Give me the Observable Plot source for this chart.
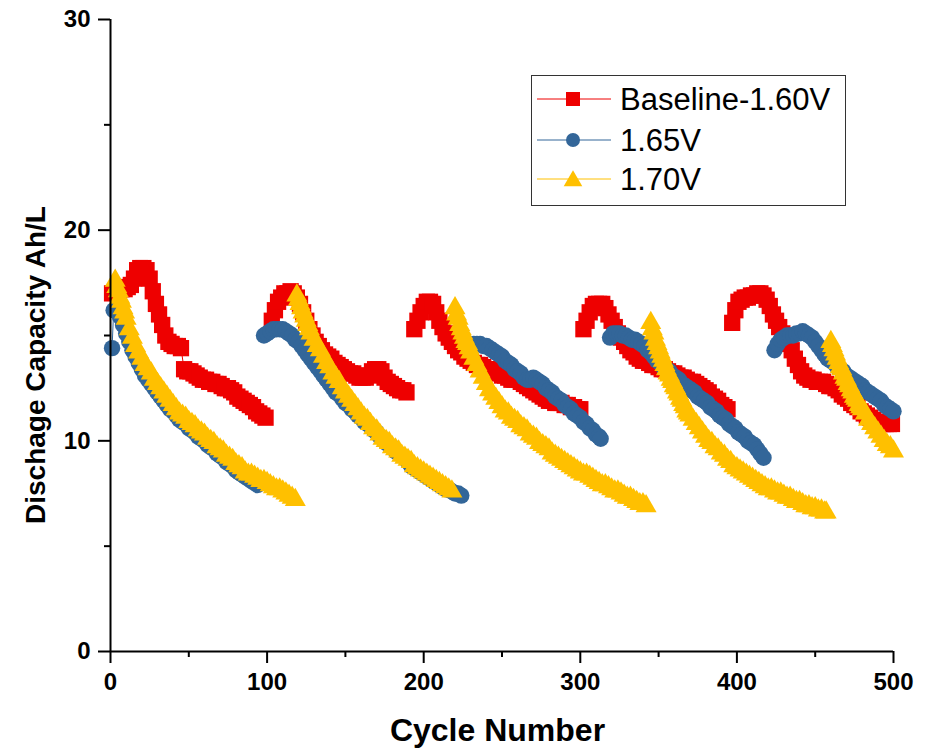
<!DOCTYPE html>
<html>
<head>
<meta charset="utf-8">
<script src="https://cdn.jsdelivr.net/npm/d3@7"></script>
<script src="https://cdn.jsdelivr.net/npm/@observablehq/plot@0.6"></script>
<style>
  html, body { margin: 0; padding: 0; background: #fff; }
  #wrap { position: relative; width: 926px; height: 751px; overflow: hidden; font-family: "Liberation Sans", Arial, sans-serif; }
  #legend { position: absolute; left: 531px; top: 75px; }
</style>
</head>
<body>
<div id="wrap"></div>
<script>
// ---- Data ----
const seriesNames = ["Baseline-1.60V", "1.65V", "1.70V"];
const seriesColors = ["#ee0000", "#336699", "#ffc000"];
const seriesSymbols = ["square", "circle", "triangle"];

const xMajorTicks = [0, 100, 200, 300, 400, 500];
const xMinorTicks = [50, 150, 250, 350, 450];
const yMajorTicks = [0, 10, 20, 30];
const yMinorTicks = [5, 15, 25];

// each series: list of runs, each run: [cycle, capacity Ah/L]
const baseline = [
  [[1,17.0],[3,17.1],[5,17.1],[7,17.2],[9,17.2],[11,17.3],[13,17.4],[15,17.7],[17,18.1],[19,18.2],[21,18.2],[23,18.1],[25,17.7],[27,17.1],[29,16.5],[31,16.0],[33,15.5],[35,15.0],[37,14.7],[39,14.6],[41,14.5],[43,14.5],[45,14.4],[47,13.4],[49,13.3],[51,13.3],[53,13.2],[55,13.1],[57,13.0],[59,12.9],[61,12.9],[63,12.8],[65,12.8],[67,12.7],[69,12.7],[71,12.6],[73,12.5],[75,12.5],[77,12.4],[79,12.3],[81,12.1],[83,12.0],[85,11.9],[87,11.8],[89,11.7],[91,11.6],[93,11.4],[95,11.3],[97,11.2],[99,11.1]],
  [[103,15.7],[105,16.2],[107,16.6],[109,16.8],[111,17.0],[113,17.0],[115,17.1],[117,17.0],[119,16.8],[121,16.5],[123,16.1],[125,15.7],[127,15.3],[129,15.0],[131,14.7],[133,14.5],[135,14.3],[137,14.1],[139,14.0],[141,13.9],[143,13.7],[145,13.6],[147,13.5],[149,13.4],[151,13.3],[153,13.2],[155,13.2],[157,13.1],[159,13.0],[161,13.0],[163,13.0],[165,13.1],[167,13.3],[169,13.4],[171,13.4],[173,13.3],[175,13.0],[177,12.8],[179,12.7],[181,12.6],[183,12.5],[185,12.4],[187,12.4],[189,12.3]],
  [[194,15.3],[196,15.7],[198,16.1],[200,16.4],[202,16.6],[204,16.6],[206,16.5],[208,16.1],[210,15.7],[212,15.4],[214,15.1],[216,14.9],[218,14.7],[220,14.5],[222,14.3],[224,14.2],[226,14.0],[228,13.9],[230,13.8],[232,13.7],[234,13.6],[236,13.6],[238,13.5],[240,13.4],[242,13.4],[244,13.3],[246,13.3],[248,13.2],[250,13.1],[252,13.1],[254,13.0],[256,12.9],[258,12.9],[260,12.9],[262,12.8],[264,12.7],[266,12.6],[268,12.5],[270,12.4],[272,12.3],[274,12.2],[276,12.1],[278,12.0],[280,11.9],[282,11.9],[284,11.8],[286,11.8],[288,11.8],[290,11.7],[292,11.7],[294,11.6],[296,11.6],[298,11.5],[300,11.5]],
  [[302,15.3],[304,15.7],[306,16.1],[308,16.4],[310,16.5],[312,16.5],[314,16.5],[316,16.3],[318,16.0],[320,15.7],[322,15.4],[324,15.1],[326,14.9],[328,14.7],[330,14.5],[332,14.3],[334,14.2],[336,14.0],[338,13.9],[340,13.8],[342,13.8],[344,13.7],[346,13.6],[348,13.6],[350,13.5],[352,13.4],[354,13.4],[356,13.3],[358,13.2],[360,13.2],[362,13.1],[364,13.0],[366,13.0],[368,12.9],[370,12.8],[372,12.8],[374,12.7],[376,12.6],[378,12.5],[380,12.4],[382,12.3],[384,12.1],[386,12.0],[388,11.9],[390,11.7],[392,11.6],[394,11.5]],
  [[397,15.6],[399,16.2],[401,16.6],[403,16.7],[405,16.8],[407,16.8],[409,16.9],[411,16.9],[413,17.0],[415,17.0],[417,16.9],[419,16.7],[421,16.4],[423,16.0],[425,15.7],[427,15.4],[429,15.1],[431,14.8],[433,14.6],[435,14.3],[437,13.9],[439,13.6],[441,13.3],[443,13.1],[445,13.0],[447,12.9],[449,12.9],[451,12.8],[453,12.8],[455,12.8],[457,12.7],[459,12.6],[461,12.6],[463,12.5],[465,12.4],[467,12.2],[469,12.1],[471,12.0],[473,11.8],[475,11.7],[477,11.6],[479,11.4],[481,11.3],[483,11.2],[485,11.1],[487,11.0],[489,10.9],[491,10.9],[493,10.8],[495,10.8],[497,10.8],[499,10.8]]
];

const v165 = [
  [[1,14.4],[2,16.2],[4,16.3],[6,15.9],[8,15.5],[10,15.1],[12,14.7],[14,14.3],[16,14.0],[18,13.7],[20,13.4],[22,13.1],[24,12.9],[26,12.7],[28,12.5],[30,12.3],[32,12.1],[34,11.9],[36,11.7],[38,11.5],[40,11.4],[42,11.2],[44,11.0],[46,10.9],[48,10.8],[50,10.6],[52,10.5],[54,10.4],[56,10.2],[58,10.1],[60,10.0],[62,9.8],[64,9.7],[66,9.6],[68,9.4],[70,9.3],[72,9.2],[74,9.0],[76,8.9],[78,8.8],[80,8.6],[82,8.5],[84,8.4],[86,8.3],[88,8.2],[90,8.1],[92,8.0],[94,7.9]],
  [[98,15.0],[100,15.1],[102,15.2],[104,15.3],[106,15.3],[108,15.3],[110,15.3],[112,15.2],[114,15.1],[116,15.0],[118,14.8],[120,14.7],[122,14.5],[124,14.3],[126,14.1],[128,13.9],[130,13.7],[132,13.5],[134,13.3],[136,13.1],[138,12.9],[140,12.7],[142,12.5],[144,12.3],[146,12.2],[148,12.0],[150,11.8],[152,11.7],[154,11.5],[156,11.4],[158,11.2],[160,11.1],[162,10.9],[164,10.8],[166,10.7],[168,10.5],[170,10.4],[172,10.2],[174,10.1],[176,9.9],[178,9.8],[180,9.7],[182,9.5],[184,9.4],[186,9.3],[188,9.2],[190,9.0],[192,8.8],[194,8.7],[196,8.6],[198,8.5],[200,8.4],[202,8.3],[204,8.2],[206,8.1],[208,8.0],[210,7.9],[212,7.8],[214,7.7],[216,7.7],[218,7.6],[220,7.5],[222,7.5],[224,7.4]],
  [[230,14.5],[232,14.6],[234,14.6],[236,14.6],[238,14.5],[240,14.5],[242,14.4],[244,14.3],[246,14.2],[248,14.1],[250,14.0],[252,13.8],[254,13.7],[256,13.6],[258,13.4],[260,13.3],[262,13.2],[264,13.0],[266,12.9],[268,12.9],[270,13.0],[272,12.9],[274,12.8],[276,12.7],[278,12.5],[280,12.4],[282,12.3],[284,12.1],[286,12.0],[288,11.9],[290,11.7],[292,11.6],[294,11.5],[296,11.3],[298,11.2],[300,11.1],[302,10.9],[304,10.8],[306,10.6],[308,10.5],[310,10.3],[312,10.2],[313,10.1]],
  [[319,14.9],[321,15.1],[323,15.1],[325,15.1],[327,15.0],[329,15.0],[331,14.9],[333,14.8],[335,14.8],[337,14.7],[339,14.6],[341,14.5],[343,14.3],[345,14.2],[347,14.0],[349,13.8],[351,13.7],[353,13.5],[355,13.4],[357,13.3],[359,13.1],[361,13.0],[363,12.9],[365,12.7],[367,12.6],[369,12.5],[371,12.4],[373,12.3],[375,12.1],[377,12.0],[379,11.9],[381,11.8],[383,11.6],[385,11.5],[387,11.4],[389,11.2],[391,11.1],[393,11.0],[395,10.8],[397,10.7],[399,10.6],[401,10.4],[403,10.3],[405,10.2],[407,10.0],[409,9.9],[411,9.8],[413,9.6],[415,9.4],[417,9.2]],
  [[424,14.3],[426,14.6],[428,14.8],[430,14.9],[432,15.0],[434,15.0],[436,15.0],[438,15.1],[440,15.1],[442,15.2],[444,15.1],[446,15.0],[448,14.9],[450,14.7],[452,14.5],[454,14.3],[456,14.1],[458,13.9],[460,13.8],[462,13.7],[464,13.5],[466,13.4],[468,13.3],[470,13.1],[472,13.0],[474,12.9],[476,12.8],[478,12.7],[480,12.6],[482,12.4],[484,12.3],[486,12.2],[488,12.1],[490,12.0],[492,11.9],[494,11.7],[496,11.6],[498,11.5],[500,11.4]]
];

const v170 = [
  [[3,17.6],[4,17.3],[5,17.1],[6,16.8],[7,16.6],[8,16.3],[9,16.1],[10,15.8],[12,15.3],[14,14.9],[16,14.5],[18,14.2],[20,13.9],[22,13.6],[24,13.4],[26,13.2],[28,12.9],[30,12.7],[32,12.5],[34,12.3],[36,12.1],[38,11.9],[40,11.7],[42,11.5],[44,11.3],[46,11.2],[48,11.1],[50,10.9],[52,10.8],[54,10.7],[56,10.5],[58,10.4],[60,10.3],[62,10.1],[64,10.0],[66,9.9],[68,9.7],[70,9.6],[72,9.5],[74,9.3],[76,9.2],[78,9.1],[80,8.9],[82,8.8],[84,8.7],[86,8.5],[88,8.4],[90,8.4],[92,8.3],[94,8.2],[96,8.1],[98,8.1],[100,8.0],[102,7.9],[104,7.8],[106,7.7],[108,7.7],[110,7.6],[112,7.5],[114,7.4],[116,7.3],[118,7.2]],
  [[119,16.9],[120,16.7],[121,16.5],[122,16.3],[123,16.1],[124,15.9],[125,15.7],[126,15.5],[127,15.3],[128,15.1],[130,14.8],[132,14.5],[134,14.3],[136,14.0],[138,13.7],[140,13.5],[142,13.2],[144,13.0],[146,12.8],[148,12.5],[150,12.3],[152,12.1],[154,11.9],[156,11.7],[158,11.5],[160,11.3],[162,11.1],[164,11.0],[166,10.8],[168,10.6],[170,10.5],[172,10.3],[174,10.1],[176,10.0],[178,9.9],[180,9.7],[182,9.6],[184,9.5],[186,9.3],[188,9.2],[190,9.1],[192,9.0],[194,8.8],[196,8.7],[198,8.6],[200,8.5],[202,8.4],[204,8.3],[206,8.2],[208,8.1],[210,8.0],[212,7.9],[214,7.8],[216,7.7],[218,7.6]],
  [[220,16.3],[221,16.0],[222,15.8],[223,15.5],[224,15.3],[225,15.1],[226,14.9],[227,14.7],[228,14.6],[229,14.4],[230,14.2],[232,13.9],[234,13.6],[236,13.3],[238,13.0],[240,12.7],[242,12.4],[244,12.2],[246,12.0],[248,11.8],[250,11.6],[252,11.4],[254,11.3],[256,11.1],[258,11.0],[260,10.9],[262,10.7],[264,10.6],[266,10.5],[268,10.3],[270,10.2],[272,10.1],[274,9.9],[276,9.8],[278,9.7],[280,9.6],[282,9.4],[284,9.3],[286,9.2],[288,9.1],[290,9.0],[292,8.9],[294,8.8],[296,8.7],[298,8.6],[300,8.5],[302,8.4],[304,8.4],[306,8.3],[308,8.2],[310,8.1],[312,8.0],[314,7.9],[316,7.9],[318,7.8],[320,7.7],[322,7.6],[324,7.6],[326,7.5],[328,7.4],[330,7.3],[332,7.3],[334,7.2],[336,7.1],[338,7.0],[340,7.0],[342,6.9]],
  [[345,15.6],[346,15.3],[347,15.1],[348,14.8],[349,14.6],[350,14.4],[351,14.2],[352,14.0],[353,13.8],[354,13.6],[355,13.4],[356,13.2],[357,13.1],[358,12.9],[359,12.8],[360,12.6],[361,12.5],[362,12.3],[363,12.2],[364,12.0],[365,11.9],[366,11.7],[367,11.6],[368,11.4],[369,11.3],[370,11.2],[372,11.0],[374,10.8],[376,10.6],[378,10.4],[380,10.2],[382,10.0],[384,9.9],[386,9.7],[388,9.6],[390,9.4],[392,9.3],[394,9.1],[396,9.0],[398,8.8],[400,8.7],[402,8.6],[404,8.5],[406,8.4],[408,8.3],[410,8.2],[412,8.1],[414,8.0],[416,7.9],[418,7.8],[420,7.7],[422,7.7],[424,7.6],[426,7.5],[428,7.5],[430,7.4],[432,7.3],[434,7.3],[436,7.2],[438,7.1],[440,7.1],[442,7.0],[444,6.9],[446,6.9],[448,6.8],[450,6.8],[452,6.7],[454,6.7],[456,6.6],[457,6.6]],
  [[460,14.7],[461,14.5],[462,14.3],[463,14.1],[464,13.9],[465,13.7],[466,13.5],[467,13.4],[468,13.2],[469,13.0],[470,12.9],[471,12.7],[472,12.6],[473,12.4],[474,12.3],[475,12.1],[476,12.0],[477,11.9],[478,11.7],[479,11.6],[480,11.5],[482,11.3],[484,11.0],[486,10.8],[488,10.6],[490,10.4],[492,10.2],[494,10.0],[496,9.8],[498,9.7],[500,9.5]]
];

const xTitle = "Cycle Number";
const yTitle = "Dischage Capacity Ah/L";

// ---- Build tidy tables ----
const allSeries = [baseline, v165, v170];
const tables = allSeries.map((runs, si) =>
  runs.flatMap((run, ri) => run.map(([c, v]) => ({series: seriesNames[si], run: ri, cycle: c, value: v})))
);

const FONT = "'Liberation Sans', Arial, Helvetica, sans-serif";
const marks = [];
const symbolR = [9.2, 8.2, 7.8];
tables.forEach((t, si) => {
  marks.push(Plot.line(t, {x: "cycle", y: "value", z: "run", stroke: seriesColors[si], strokeWidth: 1}));
  marks.push(Plot.dot(t, {x: "cycle", y: "value", symbol: seriesSymbols[si], r: symbolR[si], fill: seriesColors[si], stroke: "none"}));
});

marks.push(
  Plot.ruleX([0], {stroke: "#000", strokeWidth: 2}),
  Plot.ruleY([0], {stroke: "#000", strokeWidth: 2}),
  Plot.axisX(xMajorTicks, {tickSize: 12, strokeWidth: 2, tickPadding: 9, fontSize: 24, fontWeight: "bold", fontFamily: FONT, label: null}),
  Plot.axisX(xMinorTicks, {tickSize: 6, strokeWidth: 2, tickFormat: () => "", label: null}),
  Plot.axisY(yMajorTicks, {tickSize: 12, strokeWidth: 2, tickPadding: 8, fontSize: 24, fontWeight: "bold", fontFamily: FONT, label: null}),
  Plot.axisY(yMinorTicks, {tickSize: 6, strokeWidth: 2, tickFormat: () => "", label: null})
);

const chart = Plot.plot({
  width: 926,
  height: 751,
  marginTop: 19,
  marginLeft: 110,
  marginRight: 33,
  marginBottom: 100,
  x: {domain: [0, 500]},
  y: {domain: [0, 30]},
  style: {fontFamily: FONT, background: "white", color: "#000"},
  marks
});

const wrap = document.getElementById("wrap");
wrap.appendChild(chart);

// axis titles, positioned from the scales
const sx = chart.scale("x"), sy = chart.scale("y");
const svg = d3.select(chart);
const xMid = (sx.apply(0) + sx.apply(500)) / 2;
const yMid = (sy.apply(0) + sy.apply(30)) / 2;
svg.append("text")
  .attr("x", xMid - 4).attr("y", 741)
  .attr("text-anchor", "middle")
  .style("font", `bold 32px ${FONT}`).attr("fill", "#000")
  .text(xTitle);
svg.append("text")
  .attr("transform", `translate(45,${yMid + 30}) rotate(-90)`)
  .attr("text-anchor", "middle")
  .style("font", `bold 28px ${FONT}`).attr("fill", "#000")
  .text(yTitle);

// legend
const lg = d3.select(wrap).append("svg").attr("id", "legend").attr("width", 316).attr("height", 132);
lg.append("rect").attr("x", 0.5).attr("y", 0.5).attr("width", 314).attr("height", 130)
  .attr("fill", "white").attr("stroke", "#333").attr("stroke-width", 1);
const rowY = [24, 65, 104];
seriesNames.forEach((name, i) => {
  const g = lg.append("g").attr("transform", `translate(0,${rowY[i]})`);
  g.append("line").attr("x1", 6).attr("x2", 80).attr("stroke", seriesColors[i]).attr("stroke-width", 1);
  const size = [14 * 14, Math.PI * 7 * 7, 150][i];
  const type = [d3.symbolSquare, d3.symbolCircle, d3.symbolTriangle][i];
  g.append("path").attr("transform", `translate(42,${i === 2 ? 2 : 0})`).attr("d", d3.symbol(type, size)()).attr("fill", seriesColors[i]);
  g.append("text").attr("x", 89).attr("y", 0).attr("dy", "0.36em")
    .style("font", `31px ${FONT}`).attr("fill", "#000").text(name);
});
</script>
</body>
</html>
